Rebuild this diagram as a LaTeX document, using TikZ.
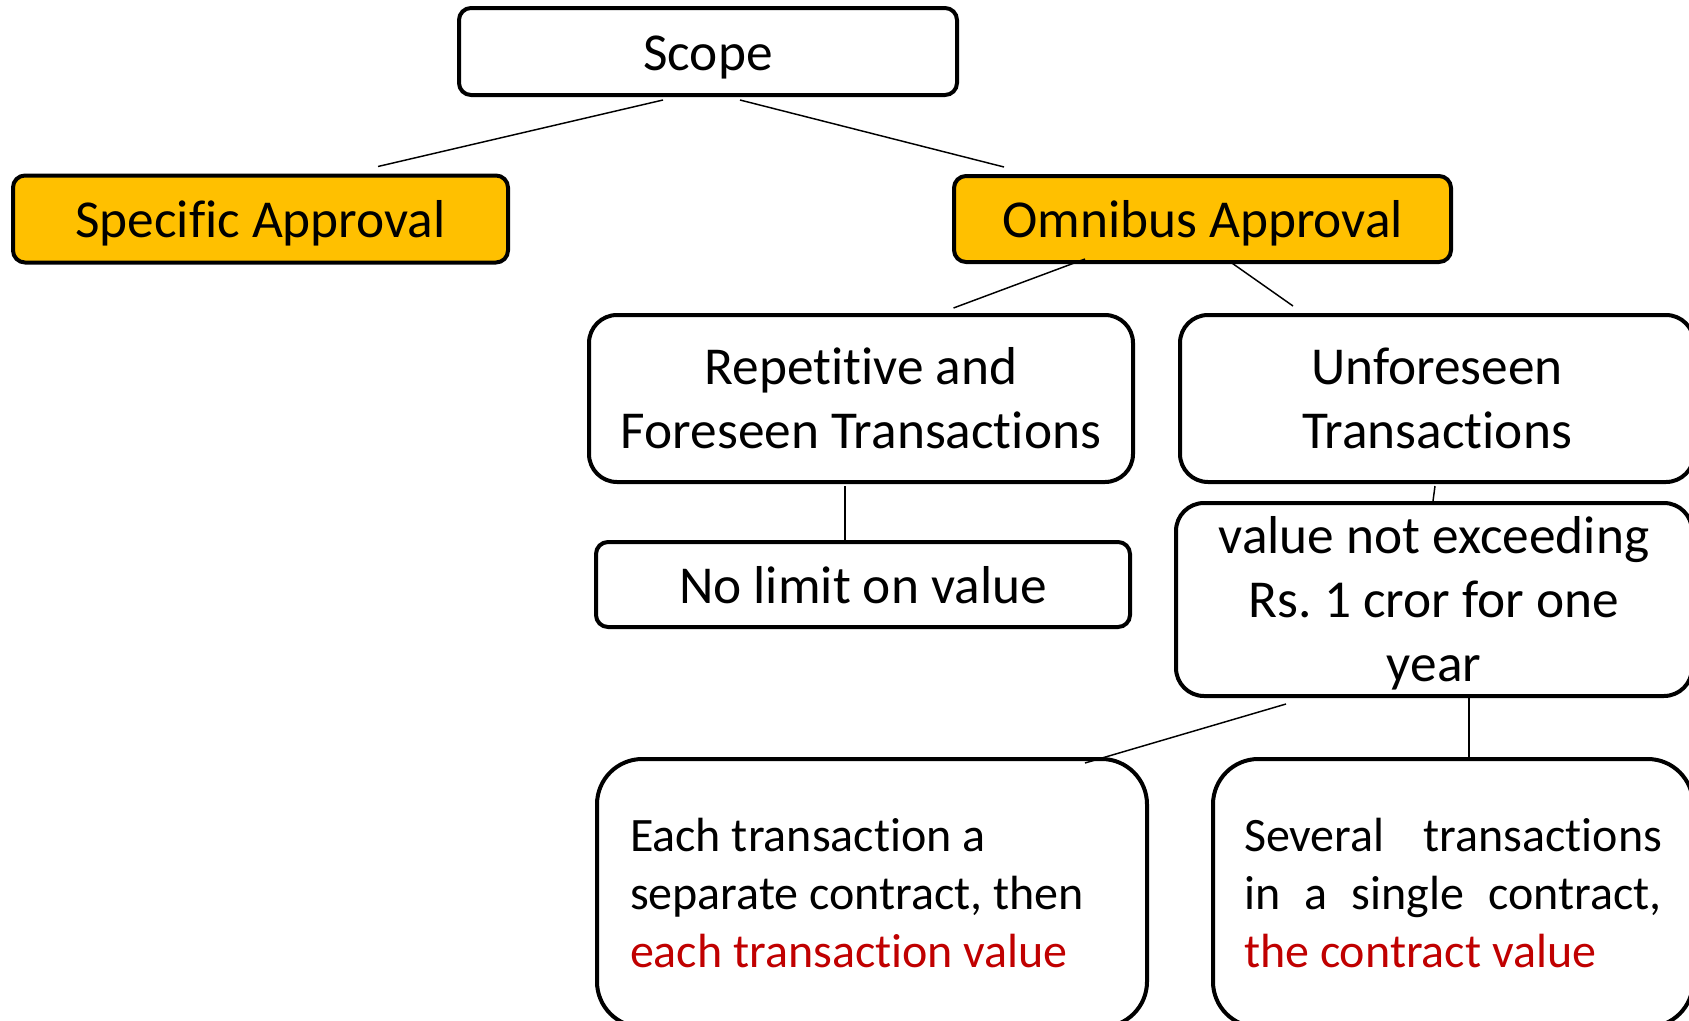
\documentclass[tikz,border=0pt]{standalone}
\usepackage{fontspec}
\setmainfont{Carlito}[Ligatures=NoCommon]
\usetikzlibrary{calc}
\frenchspacing
\definecolor{gold}{HTML}{FFC000}
\definecolor{darkred}{HTML}{C00000}
\tikzset{
  box/.style={draw=black, line width=3pt, inner sep=0pt, rectangle},
  bigtext/.style={font=\fontsize{40pt}{48pt}\selectfont, align=center},
  oneline/.style={text height=36pt, text depth=8pt},
  smalltext/.style={font=\fontsize{36pt}{43.2pt}\selectfont, align=flush left},
  flat/.style={rounded corners=9pt},
  soft/.style={rounded corners=21pt},
  round/.style={rounded corners=34pt},
  link/.style={draw=black, line width=1.1pt},
}
\begin{document}
\begin{tikzpicture}[x=0.75pt, y=-0.75pt]
\useasboundingbox (0,0) rectangle (1689,1021);

% top level
\node[box, flat, bigtext, oneline, minimum width=498*0.75pt, minimum height=87*0.75pt] (scope) at (708,51.5) {Scope};
\node[box, flat, bigtext, oneline, fill=gold, minimum width=495*0.75pt, minimum height=87*0.75pt] (spec) at (260.5,219) {Specific Approval};
\node[box, flat, bigtext, oneline, fill=gold, minimum width=497*0.75pt, minimum height=86*0.75pt] (omni) at (1202.5,219) {Omnibus Approval};

% omnibus branches
\node[box, soft, bigtext, minimum width=544*0.75pt, minimum height=167*0.75pt] (rep) at (861,398.5) {Repetitive and\\Foreseen Transactions};
\node[box, soft, bigtext, minimum width=514*0.75pt, minimum height=167*0.75pt] (unf) at (1437,398.5) {Unforeseen\\Transactions};
\node[box, flat, bigtext, oneline, minimum width=534*0.75pt, minimum height=85*0.75pt] (nolim) at (863,584.5) {No limit on value};
\node[box, soft, bigtext, text depth=1pt, minimum width=516*0.75pt, minimum height=193*0.75pt] (val) at (1434,599.5) {value not exceeding\\Rs. 1 cror for one\\year};

% value rules
\node[box, round, smalltext, text width=484*0.75pt, minimum width=550*0.75pt, minimum height=268*0.75pt] (each) at (872,893)
  {Each transaction a\\separate contract, then\\\textcolor{darkred}{each transaction value}};
\node[box, round, smalltext, text width=418*0.75pt, minimum width=480*0.75pt, minimum height=268*0.75pt] (sev) at (1453,893)
  {Several\hfill transactions\\in\hfill a\hfill single\hfill contract,\\\textcolor{darkred}{the contract value}};

% connectors
\draw[link] ($(scope.south)+(-45,3)$) -- ($(spec.north)+(117.5,-7)$);
\draw[link] ($(scope.south)+(32,3)$) -- ($(omni.north)+(-198.5,-7)$);
\draw[link] ($(omni.south)+(-117.5,-5)$) -- ($(rep.north)+(92.5,-5)$);
\draw[link] ($(omni.south)+(26.5,-3)$) -- ($(unf.north)+(-144,-7)$);
\draw[link] ($(rep.south)+(-16,2)$) -- ($(nolim.north)+(-18,0)$);
\draw[link] ($(unf.south)+(-2,2)$) -- ($(val.north)+(-1,0)$);
\draw[link] ($(val.south)+(-148,6)$) -- ($(each.north)+(213,6)$);
\draw[link] ($(val.south)+(35,0)$) -- ($(sev.north)+(16,0)$);
\end{tikzpicture}
\end{document}
